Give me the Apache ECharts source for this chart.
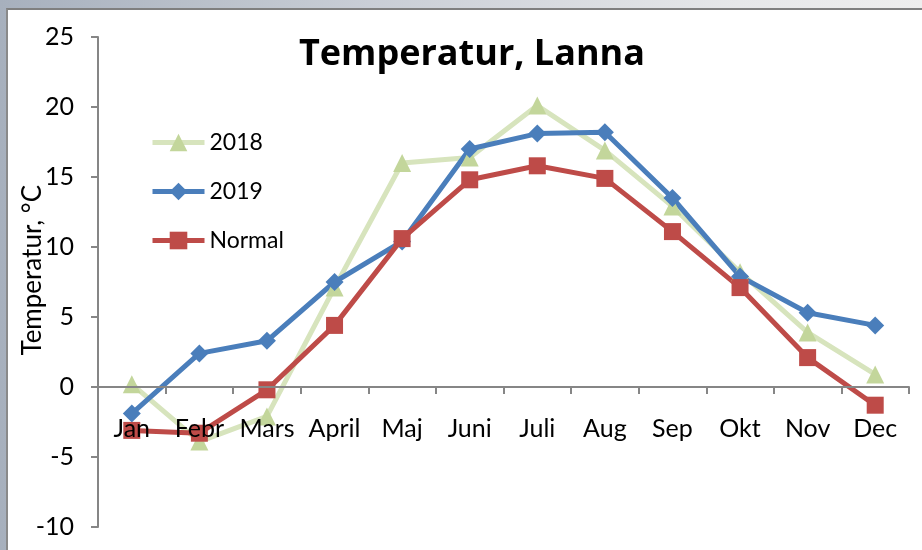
<!DOCTYPE html>
<html>
<head>
<meta charset="utf-8">
<script src="https://cdn.jsdelivr.net/npm/echarts@6/dist/echarts.min.js"></script>
<style>
  html, body { margin: 0; padding: 0; width: 922px; height: 550px; overflow: hidden;
    background: linear-gradient(to right, #a7b0bd 0%, #c9ced6 40%, #e6e7e9 80%, #eeeeee 100%); }
  #chart { position: absolute; left: 6px; top: 8px; width: 916px; height: 542px; background: #ffffff;
    border-top: 2px solid #7f7f7f; border-left: 2px solid #8a8a8a; box-sizing: border-box; }
</style>
</head>
<body>
<div id="chart"></div>
<script>
const categories = ['Jan', 'Febr', 'Mars', 'April', 'Maj', 'Juni', 'Juli', 'Aug', 'Sep', 'Okt', 'Nov', 'Dec'];
const series2018 = [0.2, -3.9, -2.1, 7.1, 16.0, 16.4, 20.1, 16.9, 12.9, 8.2, 3.9, 0.9];
const series2019 = [-1.9, 2.4, 3.3, 7.5, 10.4, 17.0, 18.1, 18.2, 13.5, 7.9, 5.3, 4.4];
const seriesNormal = [-3.1, -3.3, -0.2, 4.4, 10.6, 14.8, 15.8, 14.9, 11.1, 7.1, 2.1, -1.3];
const seriesNames = ['2018', '2019', 'Normal'];
const yTicks = { min: -10, max: 25, interval: 5 };

const FONT = 'Lato';
const GRID = { left: 90, right: 13, top: 27, bottom: 23 };
const chartEl = document.getElementById('chart');
const chart = echarts.init(chartEl);
// place the category axis at y = 0 (the chart area height comes from the container)
const plotH = chartEl.clientHeight - GRID.top - GRID.bottom;
const zeroOffset = -plotH * (0 - yTicks.min) / (yTicks.max - yTicks.min);

chart.setOption({
  animation: false,
  textStyle: { fontFamily: FONT },
  title: {
    text: 'Temperatur, Lanna',
    left: 459, top: 22, textAlign: 'center',
    textStyle: { fontFamily: 'Open Sans', fontWeight: 'bold', fontSize: 36, color: '#000' }
  },
  legend: {
    orient: 'vertical',
    left: 137, top: 116,
    itemWidth: 52, itemHeight: 22, itemGap: 26,
    lineStyle: { width: 5 },
    textStyle: { fontFamily: FONT, fontSize: 23, color: '#000' },
    data: seriesNames
  },
  graphic: [{
    type: 'text',
    left: 12, top: 175,
    rotation: Math.PI / 2,
    style: { text: 'Temperatur, °C', fontFamily: FONT, fontSize: 26, fill: '#000' }
  }],
  grid: Object.assign({ outerBoundsMode: 'none', containLabel: false }, GRID),
  xAxis: {
    type: 'category',
    data: categories,
    boundaryGap: true,
    position: 'bottom',
    offset: zeroOffset,
    z: 10,
    axisLine: { onZero: false, lineStyle: { color: '#868686', width: 2 } },
    axisTick: { show: true, length: 7, lineStyle: { color: '#868686', width: 2 } },
    axisLabel: { fontFamily: FONT, fontSize: 25, color: '#000', margin: 29, interval: 0 },
    splitLine: { show: false }
  },
  yAxis: {
    type: 'value',
    min: yTicks.min, max: yTicks.max, interval: yTicks.interval,
    axisLine: { show: true, lineStyle: { color: '#868686', width: 2 } },
    axisTick: { show: true, inside: false, length: 7, lineStyle: { color: '#868686', width: 2 } },
    axisLabel: { fontFamily: FONT, fontSize: 25, color: '#000', margin: 24 },
    splitLine: { show: false }
  },
  series: [
    {
      name: seriesNames[0], type: 'line', data: series2018,
      symbol: 'triangle', symbolSize: 18,
      lineStyle: { color: '#d7e4bd', width: 5 },
      itemStyle: { color: '#c3d69b' }
    },
    {
      name: seriesNames[1], type: 'line', data: series2019,
      symbol: 'diamond', symbolSize: 18,
      lineStyle: { color: '#4a7ebb', width: 5 },
      itemStyle: { color: '#4a7ebb' }
    },
    {
      name: seriesNames[2], type: 'line', data: seriesNormal,
      symbol: 'rect', symbolSize: 17,
      lineStyle: { color: '#be4b48', width: 5 },
      itemStyle: { color: '#be4b48' }
    }
  ]
});
</script>
</body>
</html>
